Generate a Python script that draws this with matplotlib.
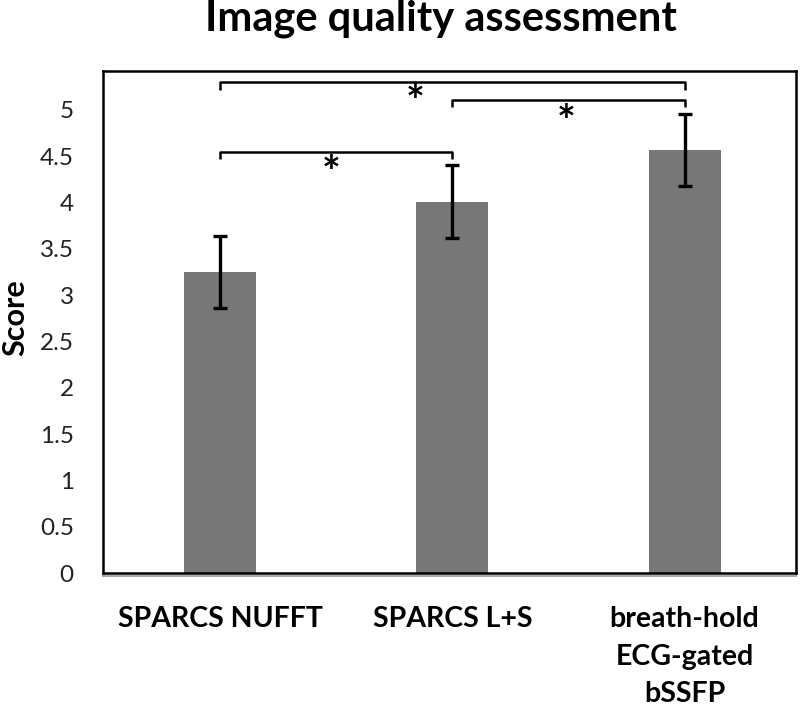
import matplotlib
matplotlib.use("Agg")
import matplotlib.pyplot as plt
import matplotlib.transforms as mtransforms

plt.rcParams['font.family'] = ['Lato', 'DejaVu Sans']

categories = ["SPARCS NUFFT", "SPARCS L+S", "breath-hold\nECG-gated\nbSSFP"]
scores = [3.25, 4.01, 4.57]
errors = [0.39, 0.39, 0.39]
yticks = [0, 0.5, 1, 1.5, 2, 2.5, 3, 3.5, 4, 4.5, 5]
ytick_labels = ["0", "0.5", "1", "1.5", "2", "2.5", "3", "3.5", "4", "4.5", "5"]

# significance brackets: (left index, right index, height)
bracket_pairs = [(0, 2), (1, 2), (0, 1)]
bracket_heights = [5.30, 5.11, 4.55]
star_x = [0.84, 1.49, 0.48]
star_y = [5.19, 4.98, 4.43]

fig = plt.figure(figsize=(8.0, 7.14), dpi=100)
ax = fig.add_axes([103/800, 1-573/714, (796-103)/800, (573-71)/714])

x = list(range(len(categories)))
ax.bar(x, scores, width=0.31, color='#777777', zorder=2)
ax.errorbar(x, scores, yerr=errors, fmt='none', ecolor='black',
            elinewidth=2.4, capsize=5, capthick=2.4, zorder=3)

tip = 0.08
for (i, j), h in zip(bracket_pairs, bracket_heights):
    ax.plot([i, i, j, j], [h - tip, h, h, h - tip], color='black', lw=1.8,
            solid_capstyle='butt', zorder=3)

# asterisk glyph sits high above the baseline; shift down so its centre lands on star_y
star_off = mtransforms.offset_copy(ax.transData, fig=fig, x=0, y=-24, units='dots')
for sx, sy in zip(star_x, star_y):
    ax.text(sx, sy, "*", ha='center', va='baseline', fontsize=32,
            fontweight='bold', color='black', transform=star_off)

ax.set_xlim(-0.505, 2.48)
ax.set_ylim(0, 5.42)
ax.set_yticks(yticks)
ax.set_yticklabels(ytick_labels, fontsize=17.5, color='#222222')
ax.set_xticks(x)
ax.set_xticklabels(categories, fontsize=20.5, fontweight='bold',
                   linespacing=1.55)
ax.tick_params(axis='y', length=0, pad=21)
ax.tick_params(axis='x', length=0, pad=24)

for s in ax.spines.values():
    s.set_linewidth(1.8)
    s.set_color('black')

# gray baseline slightly below the frame
off = mtransforms.offset_copy(ax.transAxes, fig=fig, x=0, y=-3, units='dots')
ax.plot([0, 1], [0, 0], transform=off, color='#aaaaaa', lw=1.5, clip_on=False)

fig.text(15/800, 1-318/714, "Score", rotation=90, ha='center', va='center',
         fontsize=22, fontweight='bold')
fig.text(441/800, 1-31/714, "Image quality assessment", ha='center',
         va='baseline', fontsize=30, fontweight='bold')

fig.savefig("out.png", dpi=100)
